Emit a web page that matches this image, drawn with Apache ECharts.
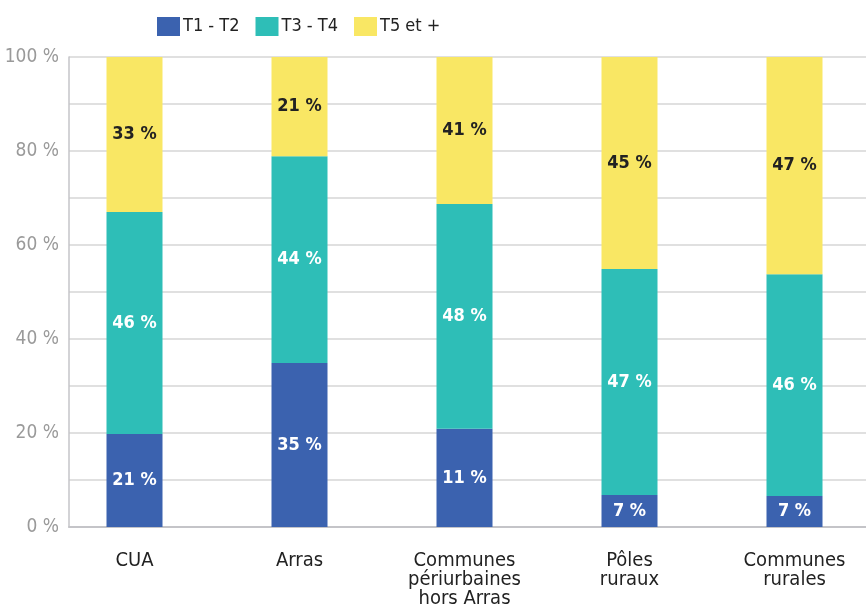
<!DOCTYPE html>
<html>
<head>
<meta charset="utf-8">
<script src="https://cdn.jsdelivr.net/npm/echarts@6/dist/echarts.min.js"></script>
<style>
  html, body { margin: 0; padding: 0; background: #fff; }
  #chart { width: 866px; height: 604px; }
</style>
</head>
<body>
<div id="chart"></div>
<script>
const categories = ['CUA', 'Arras', 'Communes\npériurbaines\nhors Arras', 'Pôles\nruraux', 'Communes\nrurales'];
const seriesNames = ['T1 - T2', 'T3 - T4', 'T5 et +'];

// bar heights as drawn (share of 100 %)
const t1Values = [19.8, 34.9, 20.9, 6.8, 6.6];
const t3Values = [47.2, 44.0, 47.8, 48.1, 47.2];
const t5Values = [33.0, 21.1, 31.3, 45.1, 46.2];

// percentages printed on the bars
const t1Labels = [21, 35, 11, 7, 7];
const t3Labels = [46, 44, 48, 47, 46];
const t5Labels = [33, 21, 41, 45, 47];

const FONT = '"DejaVu Sans Condensed", "Liberation Sans Narrow", sans-serif';
const colors = ['#3b62af', '#2ebeb7', '#f9e764'];

const chart = echarts.init(document.getElementById('chart'));

function makeSeries(name, values, labels, color, labelColor) {
  return {
    name: name,
    type: 'bar',
    stack: 'total',
    barWidth: 56,
    data: values,
    itemStyle: { color: color },
    label: {
      show: true,
      position: 'inside',
      formatter: p => labels[p.dataIndex] + ' %',
      color: labelColor,
      fontFamily: FONT,
      fontWeight: 'bold',
      fontSize: 18
    }
  };
}

const option = {
  backgroundColor: '#fff',
  animation: false,
  legend: {
    data: seriesNames,
    top: 12,
    left: 152,
    itemWidth: 23,
    itemHeight: 19,
    itemGap: 16,
    icon: 'rect',
    textStyle: { fontFamily: FONT, fontSize: 18, color: '#222', padding: [0, 0, 0, -2] }
  },
  grid: [
    // bars
    { left: 52, top: 57, width: 825, bottom: 77, outerBoundsMode: 'none' },
    // gridlines + axis lines, starting at the y axis
    { left: 69, top: 57, right: 0, bottom: 77, outerBoundsMode: 'none' }
  ],
  xAxis: [
    {
      type: 'category',
      gridIndex: 0,
      data: categories,
      axisLine: { show: false },
      axisTick: { show: false },
      axisLabel: {
        interval: 0,
        margin: 24,
        fontFamily: FONT,
        fontSize: 20,
        lineHeight: 19,
        color: '#222'
      }
    },
    {
      type: 'category',
      gridIndex: 1,
      data: categories,
      axisLine: { show: true, lineStyle: { color: '#c4c4c8', width: 2 } },
      axisTick: { show: false },
      axisLabel: { show: false }
    }
  ],
  yAxis: [
    {
      type: 'value',
      gridIndex: 0,
      min: 0,
      max: 100,
      show: false
    },
    {
      type: 'value',
      gridIndex: 1,
      min: 0,
      max: 100,
      interval: 10,
      axisLine: { show: true, lineStyle: { color: '#c4c4c8', width: 1.5 } },
      axisTick: { show: false },
      axisLabel: {
        formatter: v => (v % 20 === 0 ? v + ' %' : ''),
        margin: 10,
        fontFamily: FONT,
        fontSize: 19,
        color: '#9a9a9a'
      },
      splitLine: { lineStyle: { color: '#d6d6d6', width: 1.5 } }
    }
  ],
  series: [
    makeSeries(seriesNames[0], t1Values, t1Labels, colors[0], '#fff'),
    makeSeries(seriesNames[1], t3Values, t3Labels, colors[1], '#fff'),
    makeSeries(seriesNames[2], t5Values, t5Labels, colors[2], '#222')
  ]
};

chart.setOption(option);
</script>
</body>
</html>
